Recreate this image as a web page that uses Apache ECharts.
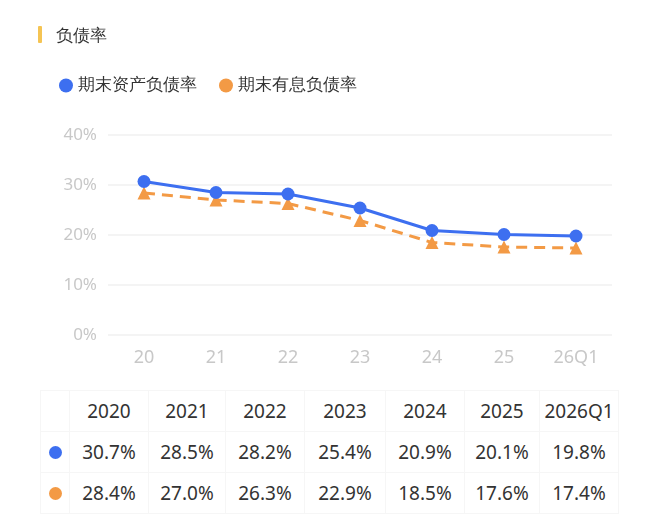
<!DOCTYPE html>
<html>
<head>
<meta charset="utf-8">
<script src="https://cdn.jsdelivr.net/npm/echarts@6/dist/echarts.min.js"></script>
<style>
  body { margin: 0; background: #fff; font-family: "Noto Sans CJK SC", "Noto Sans", sans-serif; }
  #wrap { position: relative; width: 650px; height: 525px; overflow: hidden; }
  #main { position: absolute; left: 0; top: 0; width: 650px; height: 385px; }
  #tbl { position: absolute; left: 40px; top: 390px; border-collapse: collapse; color: #333; font-size: 19px; font-family: "Noto Sans", sans-serif; }
  #tbl td { border: 1px solid #f6f6f6; height: 40px; text-align: center; padding: 0; }
  .dot { display: inline-block; width: 13px; height: 13px; border-radius: 50%; }
</style>
</head>
<body>
<div id="wrap">
  <div id="main"></div>
  <table id="tbl"><tbody id="tbody"></tbody></table>
</div>
<script>
let axisLabels = ['20', '21', '22', '23', '24', '25', '26Q1']
let tableLabels = ['2020', '2021', '2022', '2023', '2024', '2025', '2026Q1']
let assetRatio = [30.7, 28.5, 28.2, 25.4, 20.9, 20.1, 19.8]
let debtRatio = [28.4, 27.0, 26.3, 22.9, 18.5, 17.6, 17.4]
let seriesNames = ['期末资产负债率', '期末有息负债率']
let colors = ['#3d6ff0', '#f39a45']

let myChart = echarts.init(document.getElementById('main'))

let option = {
    animation: false,
    title: {
        text: '负债率',
        left: 51,
        top: 23,
        textStyle: { fontSize: 17, fontWeight: 'normal', color: '#333' }
    },
    graphic: [{
        type: 'rect',
        shape: { x: 38, y: 26, width: 4, height: 17, r: 1 },
        style: { fill: '#f5c453' }
    }],
    legend: {
        left: 54,
        top: 72,
        itemWidth: 14,
        itemHeight: 14,
        itemGap: 22,
        icon: 'circle',
        textStyle: { fontSize: 17, color: '#333' },
        data: seriesNames
    },
    grid: { left: 108, right: 38, top: 135, bottom: 50 },
    xAxis: {
        type: 'category',
        data: axisLabels,
        axisLine: { show: false },
        axisTick: { show: false },
        axisLabel: { color: '#c8c8c8', fontSize: 18, margin: 14, fontFamily: 'Noto Sans' }
    },
    yAxis: {
        type: 'value',
        min: 0,
        max: 40,
        interval: 10,
        axisLabel: { formatter: '{value}%', color: '#c8c8c8', fontSize: 17, margin: 11, fontFamily: 'Noto Sans' },
        splitLine: { lineStyle: { color: '#f1f1f1', width: 1.5 } }
    },
    series: [
        {
            name: seriesNames[0],
            type: 'line',
            data: assetRatio,
            symbol: 'circle',
            symbolSize: 13,
            color: colors[0],
            lineStyle: { width: 3 },
            z: 3
        },
        {
            name: seriesNames[1],
            type: 'line',
            data: debtRatio,
            symbol: 'triangle',
            symbolSize: 13,
            color: colors[1],
            lineStyle: { width: 3, type: [11, 7] },
            z: 2
        }
    ]
}
myChart.setOption(option)

let colWidths = [28, 78, 76, 78, 80, 78, 74, 78]
let html = '<tr><td style="width:' + colWidths[0] + 'px"></td>'
tableLabels.forEach((t, i) => {
    html += `<td style="width:${colWidths[i + 1]}px">${t}</td>`
})
html += '</tr>'
;[assetRatio, debtRatio].forEach((row, r) => {
    html += `<tr><td><span class="dot" style="background:${colors[r]}"></span></td>`
    row.forEach(v => {
        html += `<td>${v.toFixed(1)}%</td>`
    })
    html += '</tr>'
})
document.getElementById('tbody').innerHTML = html
</script>
</body>
</html>
